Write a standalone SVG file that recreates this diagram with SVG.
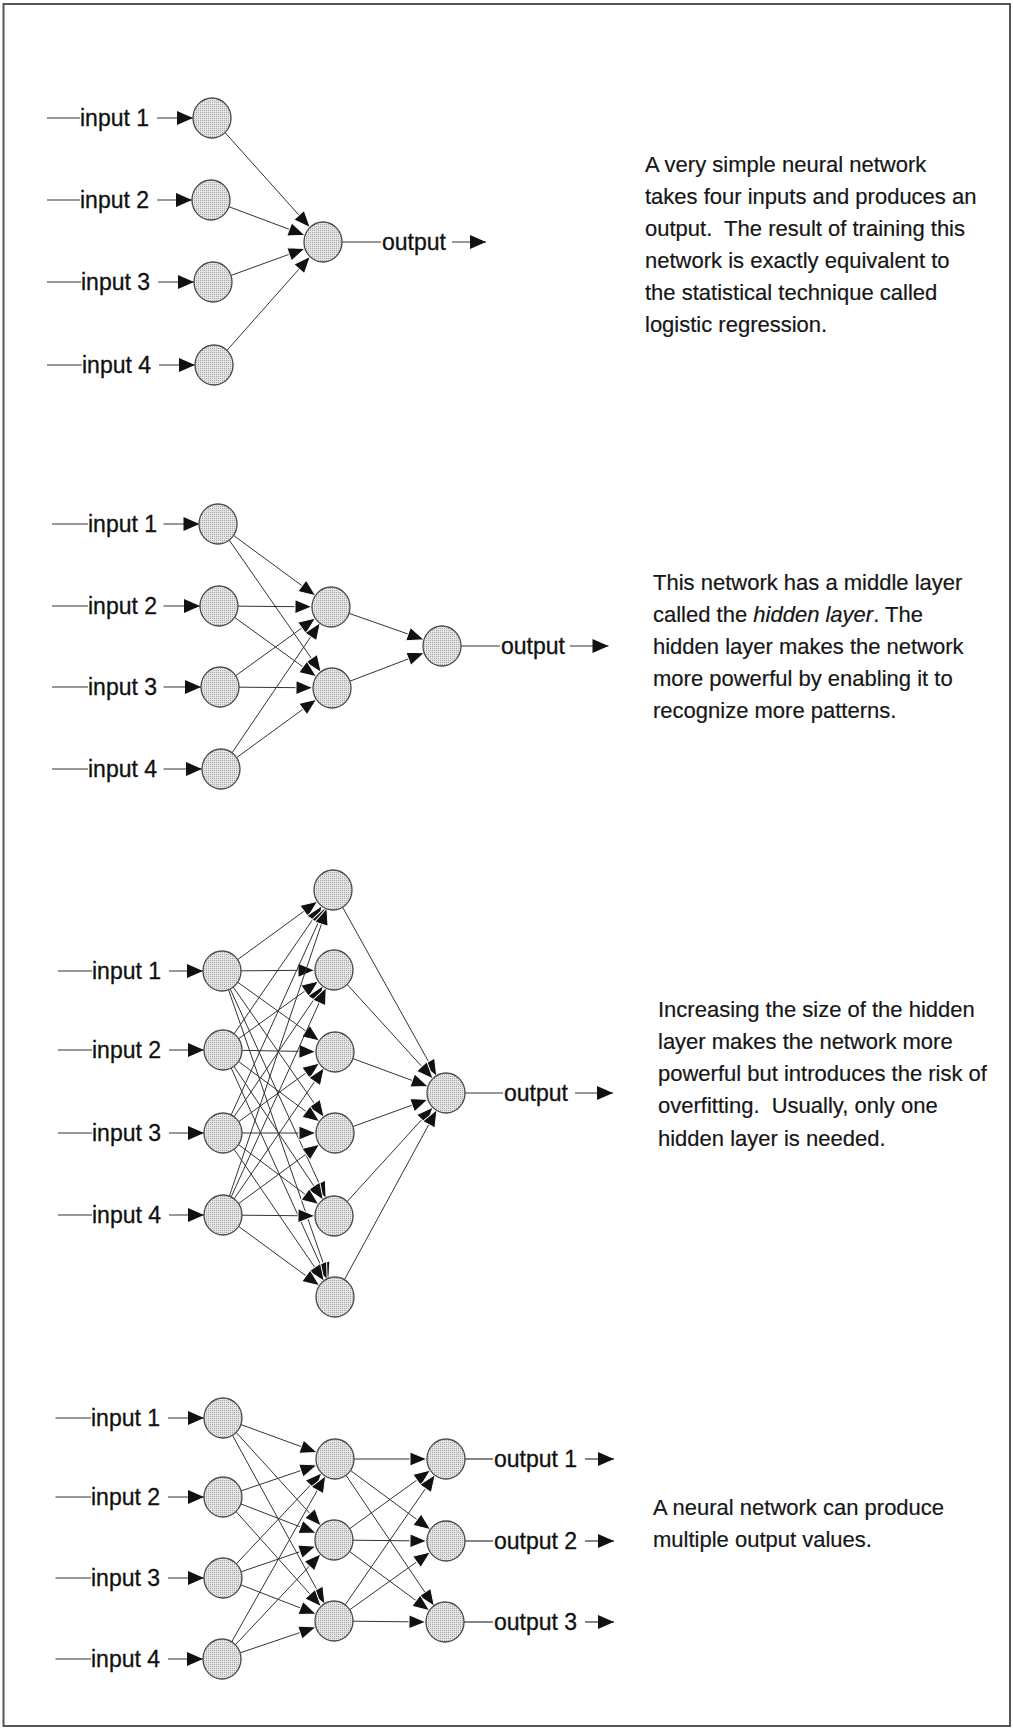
<svg xmlns="http://www.w3.org/2000/svg" width="1013" height="1729" viewBox="0 0 1013 1729">
<defs>
<pattern id="dots" width="2" height="2" patternUnits="userSpaceOnUse">
<rect width="2" height="2" fill="#e4e4e4"/>
<rect width="1" height="1" fill="#a9a9a9"/>
</pattern>
<marker id="ah" markerUnits="userSpaceOnUse" markerWidth="19" markerHeight="16" refX="17" refY="7" orient="auto" overflow="visible">
<path d="M0,0 L17,7 L0,14 z" fill="#111" stroke="#fff" stroke-width="1"/>
</marker>
<marker id="ahL" markerUnits="userSpaceOnUse" markerWidth="17" markerHeight="15" refX="16" refY="7" orient="auto" overflow="visible">
<path d="M0,0 L16,7 L0,14 z" fill="#111"/>
</marker>
</defs>
<style>
.node{fill:url(#dots);stroke:#4a4a4a;stroke-width:1.3}
.c{stroke:#333;stroke-width:1;fill:none;marker-end:url(#ah)}
.l{stroke:#333;stroke-width:1.2;fill:none}
.la{stroke:#333;stroke-width:1.2;fill:none;marker-end:url(#ahL)}
.lbl{font-family:"Liberation Sans",Arial,sans-serif;font-size:23px;fill:#111;stroke:#111;stroke-width:0.3}
.desc{font-family:"Liberation Sans",Arial,sans-serif;font-size:22px;fill:#161616;stroke:#161616;stroke-width:0.2}
</style>
<rect x="0" y="0" width="1013" height="1729" fill="#fff"/>
<rect x="3.5" y="4" width="1006.5" height="1722" fill="none" stroke="#555" stroke-width="2"/>

<g id="connectors">
<!-- section 1 -->
<line class="c" x1="212" y1="118" x2="310.3" y2="227.8"/>
<line class="c" x1="211" y1="200" x2="305.2" y2="235.3"/>
<line class="c" x1="213" y1="282" x2="305.1" y2="248.5"/>
<line class="c" x1="214" y1="365" x2="310.4" y2="256.2"/>
<line class="l" x1="47" y1="118" x2="80" y2="118"/><line class="la" x1="157" y1="118" x2="193" y2="118"/>
<line class="l" x1="47" y1="200" x2="80" y2="200"/><line class="la" x1="157" y1="200" x2="192" y2="200"/>
<line class="l" x1="47" y1="282" x2="81" y2="282"/><line class="la" x1="158" y1="282" x2="194" y2="282"/>
<line class="l" x1="47" y1="365" x2="82" y2="365"/><line class="la" x1="159" y1="365" x2="195" y2="365"/>
<line class="l" x1="342" y1="242" x2="381" y2="242"/><line class="la" x1="452" y1="242" x2="486" y2="242"/>
<!-- section 2 -->
<line class="c" x1="218" y1="524" x2="315.7" y2="595.8"/>
<line class="c" x1="218" y1="524" x2="321.2" y2="672.4"/>
<line class="c" x1="219" y1="606" x2="312" y2="606.8"/>
<line class="c" x1="219" y1="606" x2="316.6" y2="676.8"/>
<line class="c" x1="220" y1="687" x2="315.6" y2="618.1"/>
<line class="c" x1="220" y1="687" x2="313" y2="687.8"/>
<line class="c" x1="221" y1="769" x2="320.3" y2="622.7"/>
<line class="c" x1="221" y1="769" x2="316.7" y2="699.2"/>
<line class="c" x1="331" y1="607" x2="424.1" y2="639.7"/>
<line class="c" x1="332" y1="688" x2="424.3" y2="652.8"/>
<line class="l" x1="52" y1="524" x2="88" y2="524"/><line class="la" x1="163.5" y1="524" x2="199.5" y2="524"/>
<line class="l" x1="52" y1="606" x2="88" y2="606"/><line class="la" x1="163.5" y1="606" x2="200" y2="606"/>
<line class="l" x1="52" y1="687" x2="88" y2="687"/><line class="la" x1="163.5" y1="687" x2="201" y2="687"/>
<line class="l" x1="52" y1="769" x2="88" y2="769"/><line class="la" x1="163.5" y1="769" x2="202" y2="769"/>
<line class="l" x1="461" y1="646" x2="500" y2="646"/><line class="la" x1="570" y1="646" x2="608.5" y2="646"/>
<!-- section 3 -->
<line class="c" x1="222" y1="971" x2="317.7" y2="901.2"/>
<line class="c" x1="222" y1="971" x2="315" y2="970.2"/>
<line class="c" x1="222" y1="971" x2="319.6" y2="1040.9"/>
<line class="c" x1="222" y1="971" x2="324.1" y2="1117.4"/>
<line class="c" x1="222" y1="971" x2="326.1" y2="1198.7"/>
<line class="c" x1="222" y1="971" x2="328.8" y2="1279.1"/>
<line class="c" x1="223" y1="1050" x2="322.2" y2="905.7"/>
<line class="c" x1="223" y1="1050" x2="318.6" y2="981.1"/>
<line class="c" x1="223" y1="1050" x2="316" y2="1051.7"/>
<line class="c" x1="223" y1="1050" x2="319.7" y2="1121.7"/>
<line class="c" x1="223" y1="1050" x2="323.4" y2="1200.2"/>
<line class="c" x1="223" y1="1050" x2="327.2" y2="1279.7"/>
<line class="c" x1="223" y1="1133" x2="325.2" y2="907.3"/>
<line class="c" x1="223" y1="1133" x2="323.3" y2="985.7"/>
<line class="c" x1="223" y1="1133" x2="319.6" y2="1063.1"/>
<line class="c" x1="223" y1="1133" x2="316" y2="1133"/>
<line class="c" x1="223" y1="1133" x2="318.8" y2="1204.6"/>
<line class="c" x1="223" y1="1133" x2="324.3" y2="1281.3"/>
<line class="c" x1="223" y1="1215" x2="326.9" y2="908"/>
<line class="c" x1="223" y1="1215" x2="326.2" y2="987.3"/>
<line class="c" x1="223" y1="1215" x2="324.2" y2="1067.7"/>
<line class="c" x1="223" y1="1215" x2="319.7" y2="1144.2"/>
<line class="c" x1="223" y1="1215" x2="315" y2="1215.9"/>
<line class="c" x1="223" y1="1215" x2="319.7" y2="1285.8"/>
<line class="c" x1="333" y1="890" x2="436.8" y2="1076.4"/>
<line class="c" x1="334" y1="970" x2="433.2" y2="1079"/>
<line class="c" x1="335" y1="1052" x2="428.2" y2="1086.4"/>
<line class="c" x1="335" y1="1133" x2="428.1" y2="1099.4"/>
<line class="c" x1="334" y1="1216" x2="433.2" y2="1107"/>
<line class="c" x1="335" y1="1297" x2="436.9" y2="1109.7"/>
<line class="l" x1="58" y1="971" x2="92" y2="971"/><line class="la" x1="169" y1="971" x2="203" y2="971"/>
<line class="l" x1="58" y1="1050" x2="92" y2="1050"/><line class="la" x1="169" y1="1050" x2="204" y2="1050"/>
<line class="l" x1="58" y1="1133" x2="92" y2="1133"/><line class="la" x1="169" y1="1133" x2="204" y2="1133"/>
<line class="l" x1="58" y1="1215" x2="92" y2="1215"/><line class="la" x1="169" y1="1215" x2="204" y2="1215"/>
<line class="l" x1="465" y1="1093" x2="503" y2="1093"/><line class="la" x1="575" y1="1093" x2="613" y2="1093"/>
<!-- section 4 -->
<line class="c" x1="223" y1="1418" x2="317.2" y2="1452.5"/>
<line class="c" x1="223" y1="1418" x2="321.2" y2="1525.9"/>
<line class="c" x1="223" y1="1418" x2="324.9" y2="1604.3"/>
<line class="c" x1="223" y1="1497" x2="317" y2="1465.1"/>
<line class="c" x1="223" y1="1497" x2="316.3" y2="1533.1"/>
<line class="c" x1="223" y1="1497" x2="321.3" y2="1606.8"/>
<line class="c" x1="223" y1="1578" x2="322" y2="1472.8"/>
<line class="c" x1="223" y1="1578" x2="316" y2="1546.2"/>
<line class="c" x1="223" y1="1578" x2="316.3" y2="1614.1"/>
<line class="c" x1="222" y1="1659" x2="325.7" y2="1475.5"/>
<line class="c" x1="222" y1="1659" x2="321" y2="1553.8"/>
<line class="c" x1="222" y1="1659" x2="316" y2="1627.1"/>
<line class="c" x1="335" y1="1459" x2="427" y2="1459"/>
<line class="c" x1="335" y1="1459" x2="430.7" y2="1529.7"/>
<line class="c" x1="335" y1="1459" x2="434.4" y2="1606.3"/>
<line class="c" x1="334" y1="1540" x2="430.6" y2="1470.1"/>
<line class="c" x1="334" y1="1540" x2="427" y2="1541"/>
<line class="c" x1="334" y1="1540" x2="429.7" y2="1610.7"/>
<line class="c" x1="334" y1="1621" x2="435.2" y2="1474.6"/>
<line class="c" x1="334" y1="1621" x2="430.5" y2="1552"/>
<line class="c" x1="334" y1="1621" x2="426" y2="1622"/>
<line class="l" x1="55.5" y1="1418" x2="91" y2="1418"/><line class="la" x1="168" y1="1418" x2="204" y2="1418"/>
<line class="l" x1="55.5" y1="1497" x2="91" y2="1497"/><line class="la" x1="168" y1="1497" x2="204" y2="1497"/>
<line class="l" x1="55.5" y1="1578" x2="91" y2="1578"/><line class="la" x1="168" y1="1578" x2="204" y2="1578"/>
<line class="l" x1="55.5" y1="1659" x2="91" y2="1659"/><line class="la" x1="168" y1="1659" x2="203" y2="1659"/>
<line class="l" x1="465" y1="1459" x2="493" y2="1459"/><line class="la" x1="585" y1="1459" x2="614" y2="1459"/>
<line class="l" x1="465" y1="1541" x2="493" y2="1541"/><line class="la" x1="585" y1="1541" x2="614" y2="1541"/>
<line class="l" x1="464" y1="1622" x2="493" y2="1622"/><line class="la" x1="585" y1="1622" x2="614" y2="1622"/>
</g>

<!-- section 1 nodes -->
<g id="s1-in1"><ellipse class="node" cx="212" cy="118" rx="19" ry="20"/></g>
<g id="s1-in2"><ellipse class="node" cx="211" cy="200" rx="19" ry="20"/></g>
<g id="s1-in3"><ellipse class="node" cx="213" cy="282" rx="19" ry="20"/></g>
<g id="s1-in4"><ellipse class="node" cx="214" cy="365" rx="19" ry="20"/></g>
<g id="s1-out"><ellipse class="node" cx="323" cy="242" rx="19" ry="20"/></g>
<g id="s1-labels" class="lbl">
<text x="80" y="126">input 1</text>
<text x="80" y="208">input 2</text>
<text x="81" y="290">input 3</text>
<text x="82" y="373">input 4</text>
<text x="382" y="250">output</text>
</g>
<g id="s1-text" class="desc">
<text x="645" y="172">A very simple neural network</text>
<text x="645" y="204">takes four inputs and produces an</text>
<text x="645" y="236">output.&#160; The result of training this</text>
<text x="645" y="268">network is exactly equivalent to</text>
<text x="645" y="300">the statistical technique called</text>
<text x="645" y="332">logistic regression.</text>
</g>

<!-- section 2 nodes -->
<g id="s2-in1"><ellipse class="node" cx="218" cy="524" rx="19" ry="20"/></g>
<g id="s2-in2"><ellipse class="node" cx="219" cy="606" rx="19" ry="20"/></g>
<g id="s2-in3"><ellipse class="node" cx="220" cy="687" rx="19" ry="20"/></g>
<g id="s2-in4"><ellipse class="node" cx="221" cy="769" rx="19" ry="20"/></g>
<g id="s2-h1"><ellipse class="node" cx="331" cy="607" rx="19" ry="20"/></g>
<g id="s2-h2"><ellipse class="node" cx="332" cy="688" rx="19" ry="20"/></g>
<g id="s2-out"><ellipse class="node" cx="442" cy="646" rx="19" ry="20"/></g>
<g id="s2-labels" class="lbl">
<text x="88" y="532">input 1</text>
<text x="88" y="614">input 2</text>
<text x="88" y="695">input 3</text>
<text x="88" y="777">input 4</text>
<text x="501" y="654">output</text>
</g>
<g id="s2-text" class="desc">
<text x="653" y="590">This network has a middle layer</text>
<text x="653" y="622">called the <tspan font-style="italic">hidden layer</tspan>. The</text>
<text x="653" y="654">hidden layer makes the network</text>
<text x="653" y="686">more powerful by enabling it to</text>
<text x="653" y="718">recognize more patterns.</text>
</g>

<!-- section 3 nodes -->
<g id="s3-in1"><ellipse class="node" cx="222" cy="971" rx="19" ry="20"/></g>
<g id="s3-in2"><ellipse class="node" cx="223" cy="1050" rx="19" ry="20"/></g>
<g id="s3-in3"><ellipse class="node" cx="223" cy="1133" rx="19" ry="20"/></g>
<g id="s3-in4"><ellipse class="node" cx="223" cy="1215" rx="19" ry="20"/></g>
<g id="s3-h1"><ellipse class="node" cx="333" cy="890" rx="19" ry="20"/></g>
<g id="s3-h2"><ellipse class="node" cx="334" cy="970" rx="19" ry="20"/></g>
<g id="s3-h3"><ellipse class="node" cx="335" cy="1052" rx="19" ry="20"/></g>
<g id="s3-h4"><ellipse class="node" cx="335" cy="1133" rx="19" ry="20"/></g>
<g id="s3-h5"><ellipse class="node" cx="334" cy="1216" rx="19" ry="20"/></g>
<g id="s3-h6"><ellipse class="node" cx="335" cy="1297" rx="19" ry="20"/></g>
<g id="s3-out"><ellipse class="node" cx="446" cy="1093" rx="19" ry="20"/></g>
<g id="s3-labels" class="lbl">
<text x="92" y="979">input 1</text>
<text x="92" y="1058">input 2</text>
<text x="92" y="1141">input 3</text>
<text x="92" y="1223">input 4</text>
<text x="504" y="1101">output</text>
</g>
<g id="s3-text" class="desc">
<text x="658" y="1017">Increasing the size of the hidden</text>
<text x="658" y="1049">layer makes the network more</text>
<text x="658" y="1081">powerful but introduces the risk of</text>
<text x="658" y="1113">overfitting.&#160; Usually, only one</text>
<text x="658" y="1146">hidden layer is needed.</text>
</g>

<!-- section 4 nodes -->
<g id="s4-in1"><ellipse class="node" cx="223" cy="1418" rx="19" ry="20"/></g>
<g id="s4-in2"><ellipse class="node" cx="223" cy="1497" rx="19" ry="20"/></g>
<g id="s4-in3"><ellipse class="node" cx="223" cy="1578" rx="19" ry="20"/></g>
<g id="s4-in4"><ellipse class="node" cx="222" cy="1659" rx="19" ry="20"/></g>
<g id="s4-h1"><ellipse class="node" cx="335" cy="1459" rx="19" ry="20"/></g>
<g id="s4-h2"><ellipse class="node" cx="334" cy="1540" rx="19" ry="20"/></g>
<g id="s4-h3"><ellipse class="node" cx="334" cy="1621" rx="19" ry="20"/></g>
<g id="s4-o1"><ellipse class="node" cx="446" cy="1459" rx="19" ry="20"/></g>
<g id="s4-o2"><ellipse class="node" cx="446" cy="1541" rx="19" ry="20"/></g>
<g id="s4-o3"><ellipse class="node" cx="445" cy="1622" rx="19" ry="20"/></g>
<g id="s4-labels" class="lbl">
<text x="91" y="1426">input 1</text>
<text x="91" y="1505">input 2</text>
<text x="91" y="1586">input 3</text>
<text x="91" y="1667">input 4</text>
<text x="494" y="1467">output 1</text>
<text x="494" y="1549">output 2</text>
<text x="494" y="1630">output 3</text>
</g>
<g id="s4-text" class="desc">
<text x="653" y="1515">A neural network can produce</text>
<text x="653" y="1547">multiple output values.</text>
</g>
</svg>
